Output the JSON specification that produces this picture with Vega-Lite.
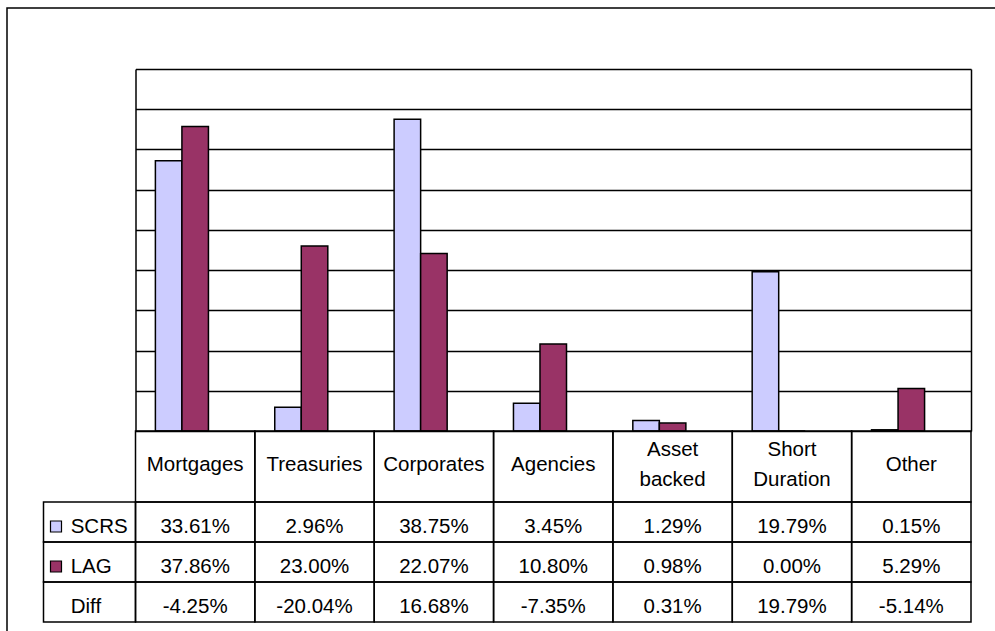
{
  "$schema": "https://vega.github.io/schema/vega-lite/v6.json",
  "width": 988,
  "height": 623,
  "autosize": {"type": "none"},
  "padding": {"left": 7, "top": 8, "right": 0, "bottom": 0},
  "background": "white",
  "config": {
    "view": {"stroke": null},
    "font": "Liberation Sans",
    "locale": {"number": {"decimal": ".", "thousands": ",", "grouping": [3], "currency": ["$", ""], "minus": "-"}}
  },
  "data": {"values": [
    {"cat": "Mortgages", "series": "SCRS", "value": 0.3361},
    {"cat": "Treasuries", "series": "SCRS", "value": 0.0296},
    {"cat": "Corporates", "series": "SCRS", "value": 0.3875},
    {"cat": "Agencies", "series": "SCRS", "value": 0.0345},
    {"cat": "Asset backed", "series": "SCRS", "value": 0.0129},
    {"cat": "Short Duration", "series": "SCRS", "value": 0.1979},
    {"cat": "Other", "series": "SCRS", "value": 0.0015},
    {"cat": "Mortgages", "series": "LAG", "value": 0.3786},
    {"cat": "Treasuries", "series": "LAG", "value": 0.2300},
    {"cat": "Corporates", "series": "LAG", "value": 0.2207},
    {"cat": "Agencies", "series": "LAG", "value": 0.1080},
    {"cat": "Asset backed", "series": "LAG", "value": 0.0098},
    {"cat": "Short Duration", "series": "LAG", "value": 0.0000},
    {"cat": "Other", "series": "LAG", "value": 0.0529},
    {"cat": "Mortgages", "series": "Diff", "value": -0.0425},
    {"cat": "Treasuries", "series": "Diff", "value": -0.2004},
    {"cat": "Corporates", "series": "Diff", "value": 0.1668},
    {"cat": "Agencies", "series": "Diff", "value": -0.0735},
    {"cat": "Asset backed", "series": "Diff", "value": 0.0031},
    {"cat": "Short Duration", "series": "Diff", "value": 0.1979},
    {"cat": "Other", "series": "Diff", "value": -0.0514}
  ]},
  "resolve": {
    "scale": {"x": "independent", "y": "independent", "xOffset": "independent"},
    "axis": {"x": "independent", "y": "independent"}
  },
  "layer": [
    {
      "transform": [{"filter": "datum.cat === 'Mortgages' && datum.series === 'SCRS'"}],
      "mark": {"type": "rect", "fill": "white", "fillOpacity": 0, "stroke": "black", "strokeWidth": 1.5},
      "encoding": {
        "x": {"datum": 0, "type": "quantitative", "axis": null, "scale": {"domain": [0, 1], "range": [0, 1100], "nice": false, "zero": false}},
        "x2": {"datum": 1},
        "y": {"datum": 0, "type": "quantitative", "axis": null, "scale": {"domain": [0, 1], "range": [0, 700], "nice": false, "zero": false}},
        "y2": {"datum": 1}
      }
    },
    {
      "transform": [{"filter": "datum.series === 'SCRS'"}],
      "mark": {"type": "bar", "fill": "#CCCCFF", "stroke": "black", "strokeWidth": 1.5},
      "encoding": {
        "x": {"field": "cat", "type": "nominal", "axis": null,
              "scale": {"type": "band", "domain": ["Mortgages", "Treasuries", "Corporates", "Agencies", "Asset backed", "Short Duration", "Other"], "range": [128.5, 964], "paddingInner": 0.333333, "paddingOuter": 0.166667}},
        "xOffset": {"field": "series", "type": "nominal", "scale": {"domain": ["SCRS", "LAG", "Diff"], "paddingInner": 0, "paddingOuter": 0}},
        "y": {"field": "value", "type": "quantitative",
              "scale": {"domain": [0, 0.45], "range": [423, 61], "nice": false, "zero": false},
              "axis": {"orient": "left", "offset": -128.5, "values": [0, 0.05, 0.1, 0.15, 0.2, 0.25, 0.3, 0.35, 0.4, 0.45], "tickSize": -835.5, "labels": false, "title": null, "grid": false, "domain": true, "domainColor": "black", "tickColor": "black", "tickWidth": 1.3, "domainWidth": 1.5}}
      }
    },
    {
      "transform": [{"filter": "datum.series === 'LAG'"}],
      "mark": {"type": "bar", "fill": "#993366", "stroke": "black", "strokeWidth": 1.5},
      "encoding": {
        "x": {"field": "cat", "type": "nominal", "axis": null,
              "scale": {"type": "band", "domain": ["Mortgages", "Treasuries", "Corporates", "Agencies", "Asset backed", "Short Duration", "Other"], "range": [128.5, 964], "paddingInner": 0.333333, "paddingOuter": 0.166667}},
        "xOffset": {"field": "series", "type": "nominal", "scale": {"domain": ["SCRS", "LAG", "Diff"], "paddingInner": 0, "paddingOuter": 0}},
        "y": {"field": "value", "type": "quantitative",
              "scale": {"domain": [0, 0.45], "range": [423, 61], "nice": false, "zero": false},
              "axis": {"orient": "right", "offset": -24, "ticks": false, "labels": false, "title": null, "grid": false, "domain": true, "domainColor": "black", "domainWidth": 1.5}}
      }
    },
    {
      "transform": [{"filter": "datum.series === 'SCRS'"}],
      "mark": {"type": "rect", "fill": "white", "fillOpacity": 0, "stroke": "black", "strokeWidth": 1.5},
      "encoding": {
        "x": {"field": "cat", "type": "nominal", "axis": null,
              "scale": {"type": "band", "domain": ["Mortgages", "Treasuries", "Corporates", "Agencies", "Asset backed", "Short Duration", "Other"], "range": [128.5, 964], "paddingInner": 0, "paddingOuter": 0}},
        "y": {"datum": "header", "type": "nominal", "axis": null,
              "scale": {"type": "band", "domain": ["header"], "range": [423, 494], "paddingInner": 0, "paddingOuter": 0}}
      }
    },
    {
      "transform": [{"filter": "datum.series === 'SCRS' && indexof(datum.cat, ' ') < 0"}],
      "mark": {"type": "text", "fontSize": 20.5, "align": "center", "baseline": "middle", "dy": -1.5, "color": "black"},
      "encoding": {
        "x": {"field": "cat", "type": "nominal", "axis": null,
              "scale": {"type": "band", "domain": ["Mortgages", "Treasuries", "Corporates", "Agencies", "Asset backed", "Short Duration", "Other"], "range": [128.5, 964], "paddingInner": 0, "paddingOuter": 0}},
        "y": {"datum": "header", "type": "nominal", "axis": null,
              "scale": {"type": "band", "domain": ["header"], "range": [423, 494], "paddingInner": 0, "paddingOuter": 0}},
        "text": {"field": "cat", "type": "nominal"}
      }
    },
    {
      "transform": [{"filter": "datum.series === 'SCRS' && indexof(datum.cat, ' ') >= 0"}],
      "mark": {"type": "text", "fontSize": 20.5, "lineBreak": " ", "lineHeight": 30, "align": "center", "baseline": "middle", "dy": -16.5, "color": "black"},
      "encoding": {
        "x": {"field": "cat", "type": "nominal", "axis": null,
              "scale": {"type": "band", "domain": ["Mortgages", "Treasuries", "Corporates", "Agencies", "Asset backed", "Short Duration", "Other"], "range": [128.5, 964], "paddingInner": 0, "paddingOuter": 0}},
        "y": {"datum": "header", "type": "nominal", "axis": null,
              "scale": {"type": "band", "domain": ["header"], "range": [423, 494], "paddingInner": 0, "paddingOuter": 0}},
        "text": {"field": "cat", "type": "nominal"}
      }
    },
    {
      "mark": {"type": "rect", "fill": "white", "fillOpacity": 0, "stroke": "black", "strokeWidth": 1.5},
      "encoding": {
        "x": {"field": "cat", "type": "nominal", "axis": null,
              "scale": {"type": "band", "domain": ["Mortgages", "Treasuries", "Corporates", "Agencies", "Asset backed", "Short Duration", "Other"], "range": [128.5, 964], "paddingInner": 0, "paddingOuter": 0}},
        "y": {"field": "series", "type": "nominal", "axis": null,
              "scale": {"type": "band", "domain": ["SCRS", "LAG", "Diff"], "range": [494, 614], "paddingInner": 0, "paddingOuter": 0}}
      }
    },
    {
      "mark": {"type": "text", "fontSize": 20.5, "align": "center", "baseline": "middle", "dy": 5, "color": "black"},
      "encoding": {
        "x": {"field": "cat", "type": "nominal", "axis": null,
              "scale": {"type": "band", "domain": ["Mortgages", "Treasuries", "Corporates", "Agencies", "Asset backed", "Short Duration", "Other"], "range": [128.5, 964], "paddingInner": 0, "paddingOuter": 0}},
        "y": {"field": "series", "type": "nominal", "axis": null,
              "scale": {"type": "band", "domain": ["SCRS", "LAG", "Diff"], "range": [494, 614], "paddingInner": 0, "paddingOuter": 0}},
        "text": {"field": "value", "type": "quantitative", "format": ".2%"}
      }
    },
    {
      "transform": [{"filter": "datum.cat === 'Mortgages'"}],
      "mark": {"type": "rect", "fill": "white", "fillOpacity": 0, "stroke": "black", "strokeWidth": 1.5},
      "encoding": {
        "x": {"datum": "legend", "type": "nominal", "axis": null,
              "scale": {"type": "band", "domain": ["legend"], "range": [36.5, 128.5], "paddingInner": 0, "paddingOuter": 0}},
        "y": {"field": "series", "type": "nominal", "axis": null,
              "scale": {"type": "band", "domain": ["SCRS", "LAG", "Diff"], "range": [494, 614], "paddingInner": 0, "paddingOuter": 0}}
      }
    },
    {
      "transform": [{"filter": "datum.cat === 'Mortgages' && datum.series !== 'Diff'"}],
      "mark": {"type": "square", "size": 121, "filled": true, "stroke": "black", "strokeWidth": 1.2, "opacity": 1},
      "encoding": {
        "x": {"datum": "legend", "type": "nominal", "axis": null,
              "scale": {"type": "band", "domain": ["legend"], "range": [44, 54], "paddingInner": 0, "paddingOuter": 0}},
        "y": {"field": "series", "type": "nominal", "axis": null,
              "scale": {"type": "band", "domain": ["SCRS", "LAG", "Diff"], "range": [498.5, 618.5], "paddingInner": 0, "paddingOuter": 0}},
        "fill": {"field": "series", "type": "nominal", "legend": null,
                 "scale": {"domain": ["SCRS", "LAG"], "range": ["#CCCCFF", "#993366"]}}
      }
    },
    {
      "transform": [{"filter": "datum.cat === 'Mortgages'"}],
      "mark": {"type": "text", "fontSize": 20.5, "align": "left", "baseline": "middle", "dy": 5, "color": "black"},
      "encoding": {
        "x": {"datum": "legend", "type": "nominal", "axis": null,
              "scale": {"type": "band", "domain": ["legend"], "range": [61.7, 65.7], "paddingInner": 0, "paddingOuter": 0}},
        "y": {"field": "series", "type": "nominal", "axis": null,
              "scale": {"type": "band", "domain": ["SCRS", "LAG", "Diff"], "range": [494, 614], "paddingInner": 0, "paddingOuter": 0}},
        "text": {"field": "series", "type": "nominal"}
      }
    }
  ]
}
